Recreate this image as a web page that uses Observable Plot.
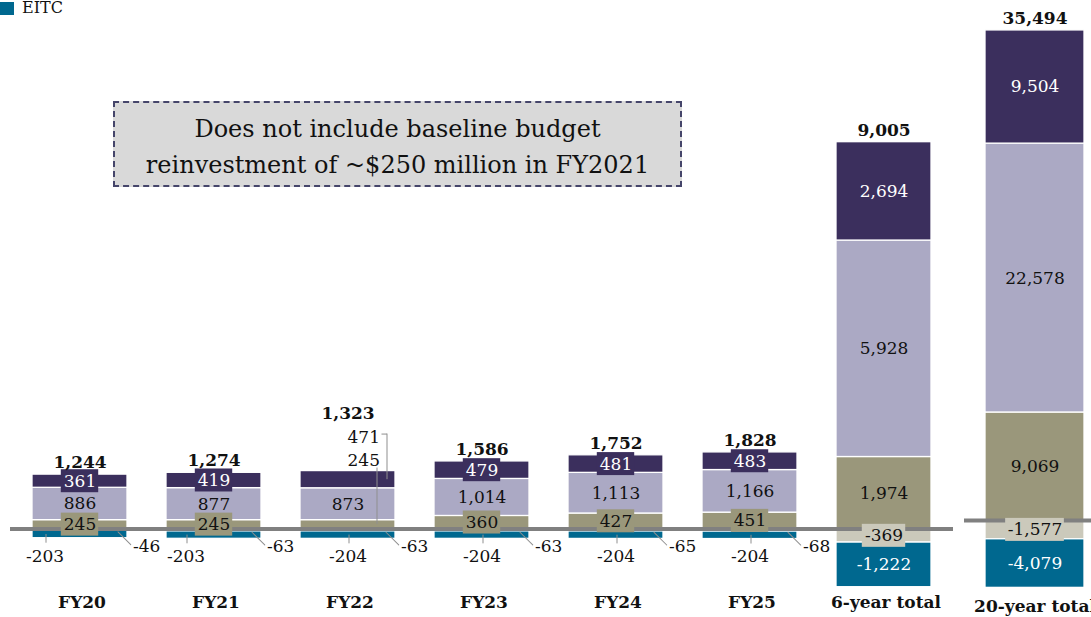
<!DOCTYPE html>
<html>
<head>
<meta charset="utf-8">
<script src="https://cdn.jsdelivr.net/npm/d3@7"></script>
<script src="https://cdn.jsdelivr.net/npm/@observablehq/plot@0.6"></script>
<style>
  html, body { margin: 0; padding: 0; background: #fff; overflow: hidden; }
  #wrap { position: relative; width: 1091px; height: 617px; overflow: hidden; font-family: "DejaVu Serif", serif; color: #111; }
  #wrap svg { max-width: none !important; }
  #plotA, #plotB { position: absolute; top: 0; }
  #plotA { left: 0; width: 960px; }
  #plotB { left: 960px; width: 145px; }
  #legend { position: absolute; left: 0; top: 0; font-size: 16px; line-height: 16px; z-index: 3; }
  .key { display: flex; align-items: center; gap: 8px; }
  .swatch { width: 14px; height: 13px; display: inline-block; }
  #note { position: absolute; left: 113px; top: 101px; width: 565px; background: #d9d9d9;
          border: 2px dashed #45456a; display: flex; flex-direction: column; justify-content: center;
          align-items: center; font-size: 24px; line-height: 36px; z-index: 3; box-sizing: content-box;
          padding-top: 5px; height: 77px; }
</style>
</head>
<body>
<div id="wrap">
  <div id="plotA"></div>
  <div id="plotB"></div>
  <div id="legend"></div>
  <div id="note"></div>
</div>
<script>
// ---------- data ----------
const categories     = ["FY20", "FY21", "FY22", "FY23", "FY24", "FY25", "6-year total", "20-year total"];
const purpleValues   = [361, 419, 471, 479, 481, 483, 2694, 9504];
const lavenderValues = [886, 877, 873, 1014, 1113, 1166, 5928, 22578];
const oliveValues    = [245, 245, 245, 360, 427, 451, 1974, 9069];
const offsetValues   = [-46, -63, -63, -63, -65, -68, -369, -1577];
const eitcValues     = [-203, -203, -204, -204, -204, -204, -1222, -4079];
const totalValues    = [1244, 1274, 1323, 1586, 1752, 1828, 9005, 35494];
const legendItems    = ["EITC"];
const noteLines      = ["Does not include baseline budget", "reinvestment of ~$250 million in FY2021"];

const seriesNames  = ["Component 3", "Component 2", "Component 1", "Offset", "EITC"];
const seriesValues = [oliveValues, lavenderValues, purpleValues, offsetValues, eitcValues];
const seriesFill   = ["#9a977b", "#aba9c4", "#3b2f5d", "#cbc9bb", "#00688f"];
const seriesInk    = ["#111", "#111", "#fff", "#111", "#fff"];

// ---------- derived table ----------
const fmt = v => (v < 0 ? "-" : "") + d3.format(",")(Math.abs(v));
const tops = categories.map((_, i) => seriesValues.reduce((s, a) => s + Math.max(0, a[i]), 0));
const bottoms = categories.map((_, i) => seriesValues.reduce((s, a) => s + Math.min(0, a[i]), 0));

const rows = [];
categories.forEach((cat, i) => {
  let pos = 0, neg = 0;
  seriesValues.forEach((vals, k) => {
    const v = vals[i];
    const y1 = v >= 0 ? pos : neg;
    const y2 = y1 + v;
    if (v >= 0) pos = y2; else neg = y2;
    let kind;
    if (i < 6) {
      if (k === 3) kind = "right";
      else if (k === 4) kind = "below";
      else if (k === 1) kind = "inside";
      else kind = (i === 2) ? "callout" : "box";
    } else kind = (k === 3) ? "box" : "inside";
    rows.push({cat, i, k, series: seriesNames[k], value: v, y1, y2, mid: (y1 + y2) / 2,
               top: tops[i], bottom: bottoms[i], label: fmt(v), kind,
               fill: seriesFill[k], ink: seriesInk[k]});
  });
});
const totalRows = categories.map((cat, i) => ({cat, i, top: tops[i], label: fmt(totalValues[i])}));

// ---------- layout ----------
const H = 617;
const FS = 17;
const belowShift = [-35, -28, 0, 0, 0, 0];
const leader = "#8f8f8f";
const lineShape = { draw(context, l) { context.moveTo(0, 0); context.lineTo(0, -l); } };
function boxWidthPx(label) {
  let w = 5;
  for (const c of label) w += /\d/.test(c) ? 10.8 : c === "," ? 4.5 : 6;
  return w;
}

function buildPlot(cfg) {
  const cats = cfg.cats;
  const data = rows.filter(d => cats.includes(d.cat));
  const tots = totalRows.filter(d => cats.includes(d.cat));
  const n = cats.length;
  const W = cfg.width - cfg.marginLeft - cfg.marginRight;
  const step = W / (n - cfg.paddingInner + 2 * cfg.paddingOuter);
  const bw = step * (1 - cfg.paddingInner);
  const ppu = H / (cfg.yDomain[1] - cfg.yDomain[0]);
  const marks = [];

  marks.push(Plot.barY(data, {x: "cat", y1: "y1", y2: "y2", fill: "fill", stroke: "#fff", strokeWidth: 1.3}));
  marks.push(Plot.ruleY([0], {stroke: "#808080", strokeWidth: 4}));

  data.filter(d => d.kind === "box").forEach(d => {
    const inset = (bw - boxWidthPx(d.label)) / 2;
    const h = 11.5 / ppu;
    marks.push(Plot.barY([d], {x: "cat", y1: r => r.mid - h, y2: r => r.mid + h, fill: "fill",
                               insetLeft: inset, insetRight: inset}));
  });

  const inner = data.filter(d => d.kind === "box" || d.kind === "inside");
  marks.push(Plot.text(inner, {x: "cat", y: "mid", text: "label", fill: "ink", fontSize: FS}));

  // EITC labels below the yearly bars
  data.filter(d => d.kind === "below").forEach(d => {
    const s = belowShift[d.i];
    marks.push(Plot.ruleX([d], {x: "cat", y1: r => r.bottom - 5 / ppu, y2: "mid", dx: s + 1,
                                stroke: leader, strokeWidth: 1}));
    marks.push(Plot.text([d], {x: "cat", y: "bottom", text: "label", dx: s, dy: 18, fill: "#111", fontSize: FS}));
  });

  // offset labels to the right
  const right = data.filter(d => d.kind === "right");
  if (right.length) {
    marks.push(Plot.vector(right, {x: "cat", y: "mid", dx: 38, dy: 2, length: 18, rotate: 135, anchor: "start",
                                   shape: lineShape, stroke: leader, strokeWidth: 1, fill: "none"}));
    marks.push(Plot.text(right, {x: "cat", y: "bottom", text: "label", dx: 53, dy: 8, textAnchor: "start",
                                 fill: "#111", fontSize: FS}));
  }

  // FY22 callouts
  data.filter(d => d.kind === "callout").forEach(d => {
    const up = d.k === 2 ? 34 : 11;
    marks.push(Plot.text([d], {x: "cat", y: "top", text: "label", dx: 32, dy: -up, textAnchor: "end",
                               fill: "#111", fontSize: FS}));
    if (d.k === 2) {
      marks.push(Plot.ruleX([d], {x: "cat", y1: "mid", y2: r => r.top + 37 / ppu, dx: 39, stroke: leader, strokeWidth: 1}));
      marks.push(Plot.tickY([d], {x: "cat", y: r => r.top + 37 / ppu, insetLeft: bw / 2 + 34, insetRight: bw / 2 - 39.5,
                                  stroke: leader, strokeWidth: 1}));
    } else {
      marks.push(Plot.ruleX([d], {x: "cat", y1: "mid", y2: r => r.top + 3 / ppu, dx: 29, stroke: leader, strokeWidth: 1}));
    }
  });

  // totals
  marks.push(Plot.text(tots.filter(d => d.i !== 2), {x: "cat", y: "top", text: "label", dy: -12,
                                                      fontWeight: "bold", fontSize: FS, fill: "#111"}));
  marks.push(Plot.text(tots.filter(d => d.i === 2), {x: "cat", y: "top", text: "label", dy: -58,
                                                      fontWeight: "bold", fontSize: FS, fill: "#111"}));

  // category labels
  marks.push(Plot.text(cats, {x: d => d, frameAnchor: "bottom", dx: cfg.labelDx, dy: cfg.labelDy, fontWeight: "bold",
                              fontSize: FS, fill: "#111"}));

  return Plot.plot({
    width: cfg.width, height: H,
    marginTop: 0, marginBottom: 0, marginLeft: cfg.marginLeft, marginRight: cfg.marginRight,
    x: {domain: cats, axis: null, paddingInner: cfg.paddingInner, paddingOuter: cfg.paddingOuter},
    y: {domain: cfg.yDomain, axis: null},
    color: {type: "identity"},
    style: {fontFamily: '"DejaVu Serif", serif', fontSize: FS + "px", background: "transparent", overflow: "visible"},
    marks
  });
}

document.getElementById("plotA").appendChild(buildPlot({
  cats: categories.slice(0, 7), width: 960, marginLeft: 10, marginRight: 7,
  paddingInner: 0.2946, paddingOuter: 0.1485, yDomain: [-2421, 14476], labelDx: 2, labelDy: -10
}));
document.getElementById("plotB").appendChild(buildPlot({
  cats: categories.slice(7), width: 145, marginLeft: 4, marginRight: 0,
  paddingInner: 0, paddingOuter: 0.2121, yDomain: [-8145, 43665], labelDx: 0, labelDy: -6
}));

// legend
const legend = document.getElementById("legend");
legendItems.forEach(name => {
  const k = seriesNames.indexOf(name);
  const row = document.createElement("div");
  row.className = "key";
  const sw = document.createElement("span");
  sw.className = "swatch";
  sw.style.background = seriesFill[k];
  const tx = document.createElement("span");
  tx.textContent = name;
  row.appendChild(sw); row.appendChild(tx);
  legend.appendChild(row);
});

// note
const note = document.getElementById("note");
noteLines.forEach(t => { const d = document.createElement("div"); d.textContent = t; note.appendChild(d); });
</script>
</body>
</html>
